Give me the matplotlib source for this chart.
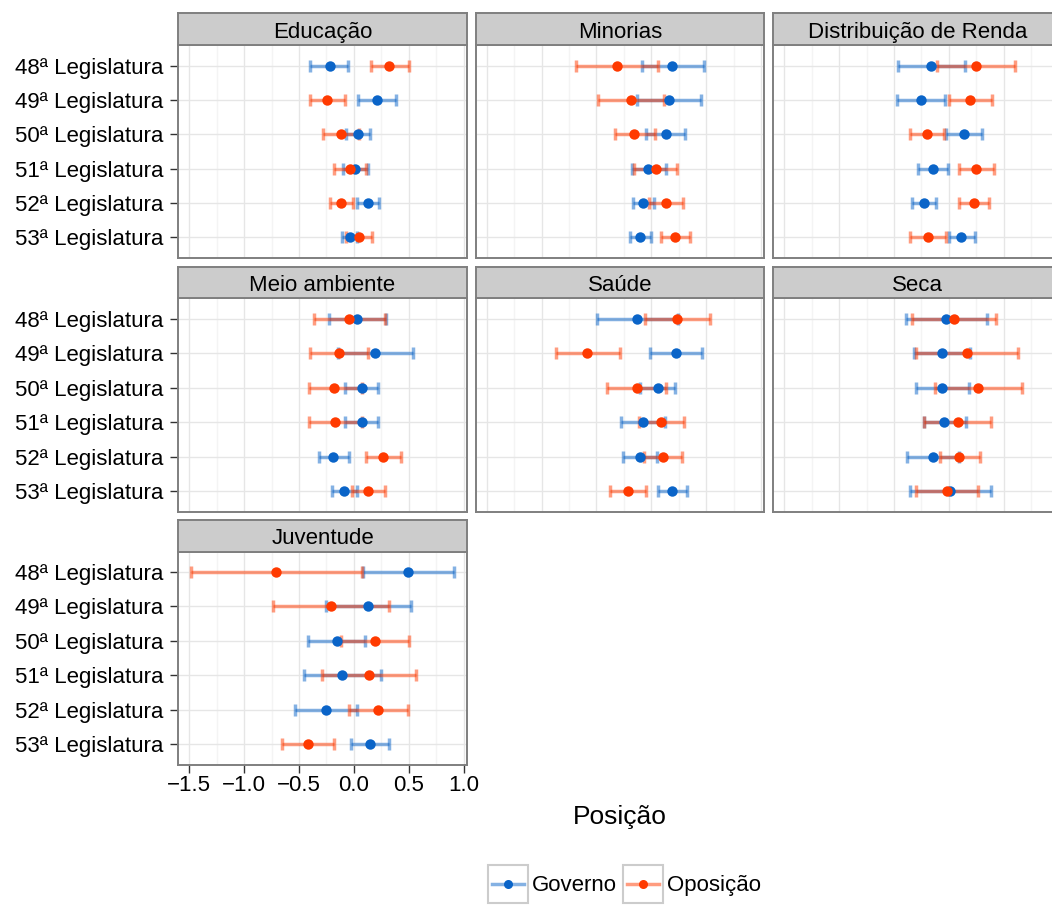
import matplotlib
matplotlib.use("Agg")
import matplotlib.pyplot as plt
from matplotlib.patches import Rectangle
from matplotlib.lines import Line2D

plt.rcParams["font.family"] = ["Liberation Sans", "DejaVu Sans"]

# dados: (limite inferior, posição, limite superior) por legislatura
legislaturas = ["48ª Legislatura", "49ª Legislatura", "50ª Legislatura",
                "51ª Legislatura", "52ª Legislatura", "53ª Legislatura"]
temas = ["Educação", "Minorias", "Distribuição de Renda",
         "Meio ambiente", "Saúde", "Seca", "Juventude"]

educacao_gov = [(-0.40, -0.22, -0.05), (0.036, 0.21, 0.38), (-0.07, 0.036, 0.15),
                (-0.10, 0.01, 0.13), (0.033, 0.127, 0.23), (-0.11, -0.033, 0.03)]
educacao_opo = [(0.155, 0.32, 0.50), (-0.40, -0.24, -0.076), (-0.285, -0.12, 0.05),
                (-0.18, -0.036, 0.11), (-0.215, -0.115, -0.01), (-0.07, 0.05, 0.17)]

minorias_gov = [(-0.088, 0.19, 0.48), (-0.13, 0.16, 0.455), (-0.045, 0.133, 0.31),
                (-0.18, -0.027, 0.13), (-0.17, -0.076, 0.024), (-0.19, -0.10, 0.0)]
minorias_opo = [(-0.685, -0.315, 0.06), (-0.49, -0.185, 0.12), (-0.33, -0.158, 0.03),
                (-0.155, 0.042, 0.233), (-0.02, 0.136, 0.29), (0.09, 0.22, 0.35)]

renda_gov = [(-0.46, -0.158, 0.148), (-0.47, -0.255, -0.036), (-0.024, 0.142, 0.306),
             (-0.28, -0.148, -0.01), (-0.333, -0.23, -0.12), (0.0, 0.112, 0.24)]
renda_opo = [(-0.106, 0.245, 0.60), (0.006, 0.197, 0.39), (-0.355, -0.20, -0.045),
             (0.09, 0.248, 0.41), (0.097, 0.233, 0.37), (-0.355, -0.194, -0.03)]

ambiente_gov = [(-0.224, 0.033, 0.297), (-0.145, 0.194, 0.54), (-0.08, 0.07, 0.22),
                (-0.08, 0.07, 0.22), (-0.32, -0.19, -0.04), (-0.197, -0.088, 0.027)]
ambiente_opo = [(-0.367, -0.048, 0.28), (-0.40, -0.136, 0.13), (-0.41, -0.18, 0.07),
                (-0.405, -0.167, 0.07), (0.11, 0.267, 0.43), (-0.02, 0.127, 0.285)]

saude_gov = [(-0.494, -0.133, 0.24), (-0.01, 0.227, 0.46), (-0.10, 0.06, 0.22),
             (-0.276, -0.076, 0.124), (-0.258, -0.106, 0.05), (0.058, 0.188, 0.324)]
saude_opo = [(-0.06, 0.236, 0.533), (-0.87, -0.585, -0.29), (-0.40, -0.133, 0.136),
             (-0.11, 0.09, 0.297), (-0.067, 0.106, 0.28), (-0.38, -0.215, -0.045)]

seca_gov = [(-0.39, -0.027, 0.345), (-0.32, -0.064, 0.194), (-0.30, -0.06, 0.18),
            (-0.23, -0.04, 0.155), (-0.38, -0.148, 0.097), (-0.355, 0.012, 0.385)]
seca_opo = [(-0.336, 0.045, 0.43), (-0.297, 0.17, 0.63), (-0.127, 0.267, 0.667),
            (-0.224, 0.082, 0.38), (-0.08, 0.097, 0.285), (-0.30, -0.018, 0.27)]

juventude_gov = [(0.08, 0.494, 0.91), (-0.25, 0.133, 0.52), (-0.415, -0.157, 0.106),
                 (-0.45, -0.106, 0.245), (-0.533, -0.255, 0.027), (-0.027, 0.148, 0.318)]
juventude_opo = [(-1.48, -0.71, 0.073), (-0.74, -0.21, 0.32), (-0.115, 0.194, 0.50),
                 (-0.29, 0.14, 0.567), (-0.04, 0.224, 0.49), (-0.657, -0.418, -0.18)]

grupos = ["Governo", "Oposição"]
dados = {
    "Educação": (educacao_gov, educacao_opo),
    "Minorias": (minorias_gov, minorias_opo),
    "Distribuição de Renda": (renda_gov, renda_opo),
    "Meio ambiente": (ambiente_gov, ambiente_opo),
    "Saúde": (saude_gov, saude_opo),
    "Seca": (seca_gov, seca_opo),
    "Juventude": (juventude_gov, juventude_opo),
}
cores = {"Governo": "#0A64C8", "Oposição": "#FF3A00"}

# escala x comum (expansão de 5% como no ggplot)
todos = [v for t in temas for g in dados[t] for trio in g for v in (trio[0], trio[2])]
lo, hi = min(todos), max(todos)
pad = (hi - lo) * 0.05
xlim = (lo - pad, hi + pad)

W, H = 1052, 905
fig = plt.figure(figsize=(W / 100, H / 100), dpi=100)


def rect(x0, y0, w, h):
    return [x0 / W, 1 - (y0 + h) / H, w / W, h / H]


col_x = [178.3, 475.8, 773.3]
row_y = [13, 266.5, 519.5]
panel_w, strip_h, panel_h = 288.5, 32, 213
borda = "#7F7F7F"

for i, tema in enumerate(temas):
    r, c = divmod(i, 3)
    x0, y0 = col_x[c], row_y[r]
    ax = fig.add_axes(rect(x0, y0 + strip_h, panel_w, panel_h))
    ys = list(range(len(legislaturas)))

    for g, serie in zip(grupos, dados[tema]):
        low = [s[0] for s in serie]
        mid = [s[1] for s in serie]
        high = [s[2] for s in serie]
        ax.errorbar(mid, ys, xerr=[[m - l for m, l in zip(mid, low)],
                                   [h - m for m, h in zip(mid, high)]],
                    fmt="none", ecolor=cores[g], alpha=0.5, elinewidth=2.5,
                    capsize=4, capthick=2.5, zorder=2)
    for g, serie in zip(grupos, dados[tema]):
        mid = [s[1] for s in serie]
        ax.plot(mid, ys, "o", color=cores[g], ms=7.5, mec="none", zorder=3)

    ax.set_xlim(xlim)
    ax.set_ylim(len(legislaturas) - 0.4, -0.6)
    ax.set_xticks([-1.5, -1.0, -0.5, 0.0, 0.5, 1.0])
    ax.set_xticks([-1.25, -0.75, -0.25, 0.25, 0.75], minor=True)
    ax.set_yticks(ys)
    ax.set_yticklabels(legislaturas)
    ax.grid(True, which="major", color="#E6E6E6", linewidth=1.0, zorder=0)
    ax.grid(True, which="minor", axis="x", color="#F4F4F4", linewidth=1.0, zorder=0)
    ax.set_axisbelow(True)
    for sp in ax.spines.values():
        sp.set_color(borda)
        sp.set_linewidth(1.4)
    ax.tick_params(which="minor", length=0)
    ax.tick_params(axis="both", which="major", labelsize=16, color="#333333",
                   length=5.5, width=1.0, labelcolor="black")
    ax.tick_params(axis="y", pad=5)
    ax.tick_params(axis="x", pad=2)
    if c != 0:
        ax.tick_params(axis="y", left=False, labelleft=False)
    if tema != "Juventude":
        ax.tick_params(axis="x", bottom=False, labelbottom=False)

    sax = fig.add_axes(rect(x0, y0, panel_w, strip_h))
    sax.set_facecolor("#CCCCCC")
    sax.set_xticks([])
    sax.set_yticks([])
    for sp in sax.spines.values():
        sp.set_color(borda)
        sp.set_linewidth(1.4)
    sax.text(0.5, 0.47, tema, ha="center", va="center_baseline", fontsize=16,
             transform=sax.transAxes)

# título do eixo e legenda
lay = fig.add_axes([0, 0, 1, 1], zorder=-1)
lay.set_xlim(0, W)
lay.set_ylim(H, 0)
lay.axis("off")
lay.text(620, 817, "Posição", ha="center", va="center", fontsize=19)

chaves = [(488.3, "Governo"), (622.7, "Oposição")]
for kx, g in chaves:
    lay.add_patch(Rectangle((kx, 865), 40, 38, facecolor="white",
                            edgecolor="#CCCCCC", linewidth=1.5))
    lay.add_line(Line2D([kx + 4, kx + 36], [884, 884], color=cores[g],
                        alpha=0.5, linewidth=2.5))
    lay.plot([kx + 20], [884], "o", color=cores[g], ms=6.5, mec="none")
    lay.text(kx + 44, 885, g, ha="left", va="center", fontsize=16)

fig.savefig("out.png", dpi=100)
